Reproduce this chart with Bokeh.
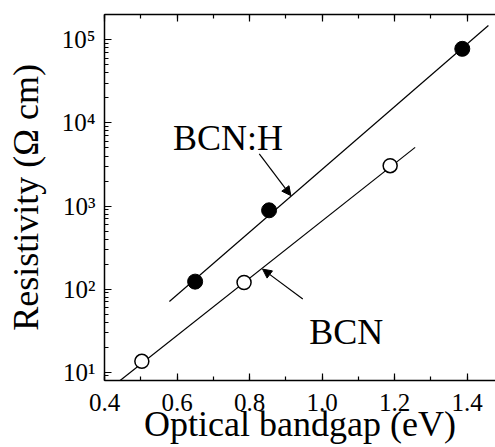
from bokeh.plotting import figure
from bokeh.models import (Range1d, LinearAxis, SingleIntervalTicker, LogTicker, Arrow, NormalHead,
                          Label, PrintfTickFormatter, CustomJSTickFormatter)
from bokeh.embed import file_html
from bokeh.resources import INLINE

# data
bcnh_gap = [0.65, 0.854, 1.387]
bcnh_res = [123, 888, 78000]
bcn_gap = [0.503, 0.785, 1.188]
bcn_res = [13.5, 120, 3060]
bcnh_fit_gap = [0.579, 1.459]
bcnh_fit_res = [71, 148600]
bcn_fit_gap = [0.443, 1.257]
bcn_fit_res = [7.94, 5080]
y_tick_labels = {10: "10¹", 100: "10²", 1000: "10³", 10000: "10⁴", 100000: "10⁵"}
x_title = "Optical bandgap (eV)"
y_title = "Resistivity (Ω cm)"

FONT = "Liberation Serif"

p = figure(width=495, height=447, y_axis_type="log",
           x_range=Range1d(0.4, 1.4786), y_range=Range1d(7.94, 2.02e5),
           output_backend="svg", toolbar_location=None,
           min_border_left=104, min_border_right=0, min_border_top=14, min_border_bottom=67)
p.outline_line_color = None
p.xgrid.visible = False
p.ygrid.visible = False
p.background_fill_color = "white"

p.xaxis.ticker = SingleIntervalTicker(interval=0.2, num_minor_ticks=2)
p.xaxis.formatter = PrintfTickFormatter(format="%.1f")
p.yaxis.ticker = LogTicker(num_minor_ticks=10)
p.yaxis.major_label_overrides = y_tick_labels

for ax in (p.xaxis[0], p.yaxis[0]):
    ax.axis_line_width = 1.5
    ax.axis_line_color = "black"
    ax.major_tick_line_color = "black"
    ax.minor_tick_line_color = "black"
    ax.major_tick_line_width = 1.2
    ax.minor_tick_line_width = 1.2
    ax.major_tick_in = 7
    ax.major_tick_out = 0
    ax.minor_tick_in = 4
    ax.minor_tick_out = 0
    ax.major_label_text_font = FONT
    ax.major_label_text_font_size = "25px"
    ax.major_label_text_color = "black"
    ax.axis_label_text_font = FONT
    ax.axis_label_text_font_size = "36px"
    ax.axis_label_text_font_style = "normal"
    ax.axis_label_text_color = "black"

p.xaxis.axis_label = x_title
p.yaxis.axis_label = y_title
p.xaxis.major_label_standoff = 13
p.xaxis.axis_label_standoff = -10
p.yaxis.major_label_standoff = 9
p.yaxis.axis_label_standoff = 13

top = LinearAxis(ticker=SingleIntervalTicker(interval=0.2, num_minor_ticks=2),
                 formatter=CustomJSTickFormatter(code="return ''"))
top.axis_line_width = 1.5
top.major_tick_line_width = 1.2
top.minor_tick_line_width = 1.2
top.major_tick_in = 7
top.major_tick_out = 0
top.minor_tick_in = 4
top.minor_tick_out = 0
top.major_label_standoff = 0
p.add_layout(top, "above")

# fit lines
p.line(bcnh_fit_gap, bcnh_fit_res, line_color="black", line_width=1.2)
p.line(bcn_fit_gap, bcn_fit_res, line_color="black", line_width=1.2)

# points
p.scatter(bcnh_gap, bcnh_res, size=15, marker="circle", fill_color="black", line_color="black")
p.scatter(bcn_gap, bcn_res, size=14, marker="circle", fill_color="white", line_color="black", line_width=1.5)

# arrows
p.add_layout(Arrow(x_start=0.827, y_start=4236, x_end=0.914, y_end=1334,
                   line_width=1.2, end=NormalHead(size=9, fill_color="black", line_color="black")))
p.add_layout(Arrow(x_start=0.947, y_start=75.9, x_end=0.836, y_end=174,
                   line_width=1.2, end=NormalHead(size=9, fill_color="black", line_color="black")))

p.add_layout(Label(x=0.589, y=6650, text="BCN:H", text_font=FONT, text_font_size="36px",
                   text_baseline="alphabetic", text_color="black"))
p.add_layout(Label(x=0.965, y=30.1, text="BCN", text_font=FONT, text_font_size="36px",
                   text_baseline="alphabetic", text_color="black"))

open("out.html", "w").write(file_html(p, INLINE))
